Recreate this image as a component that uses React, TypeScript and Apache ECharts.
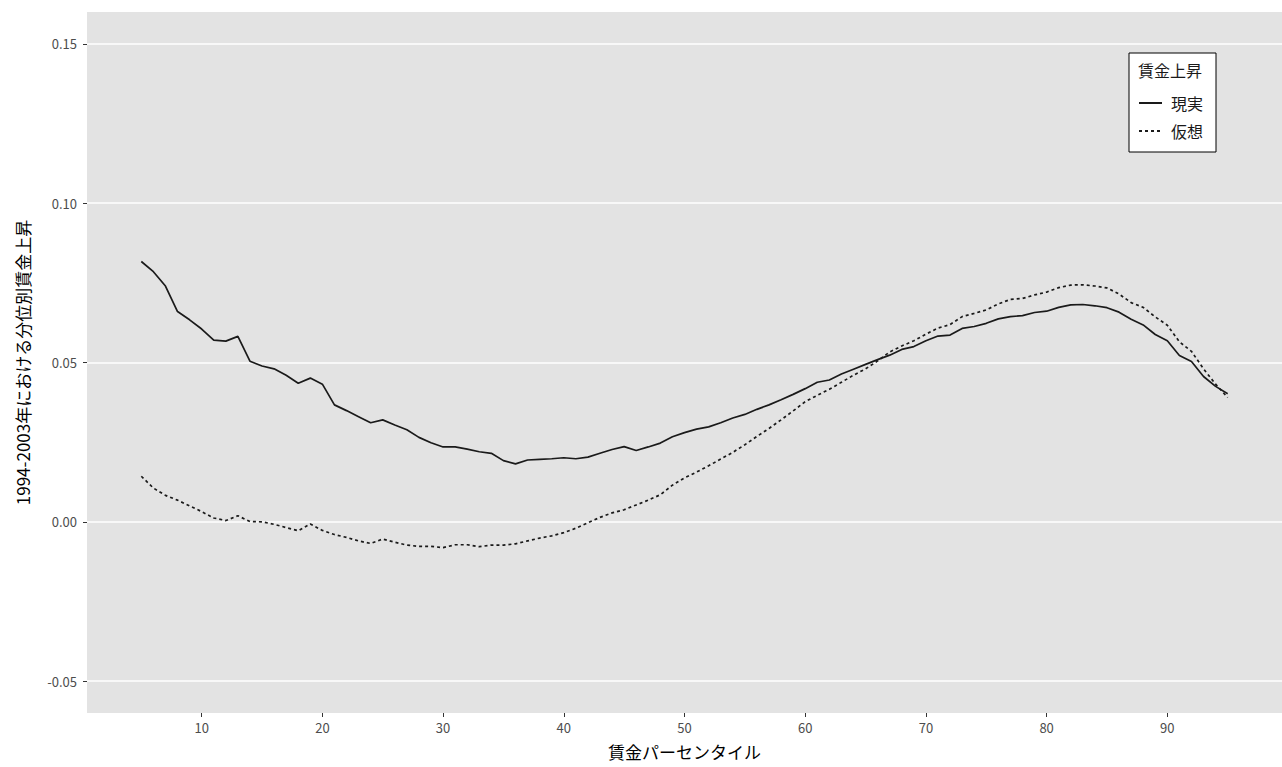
import React, { useEffect, useRef } from "react";
import * as echarts from "echarts";

const percentiles: number[] = Array.from({ length: 91 }, (_, i) => i + 5);

const actual: number[] = [
  0.0817, 0.0785, 0.074, 0.066, 0.0634, 0.0605, 0.057, 0.0567, 0.0582, 0.0504,
  0.0489, 0.048, 0.046, 0.0435, 0.0451, 0.0432, 0.0367, 0.0349, 0.033, 0.0311,
  0.032, 0.0304, 0.0289, 0.0265, 0.0248, 0.0235, 0.0235, 0.0228, 0.022, 0.0215,
  0.0192, 0.0182, 0.0194, 0.0196, 0.0198, 0.0201, 0.0198, 0.0203, 0.0215, 0.0227,
  0.0236, 0.0224, 0.0235, 0.0247, 0.0267, 0.028, 0.0291, 0.0298, 0.0311, 0.0326,
  0.0337, 0.0353, 0.0367, 0.0383, 0.04, 0.0418, 0.0438, 0.0445, 0.0464, 0.0479,
  0.0494, 0.0509, 0.0523, 0.0541, 0.055, 0.0568, 0.0583, 0.0586, 0.0607, 0.0613,
  0.0623, 0.0637, 0.0644, 0.0647, 0.0657, 0.0661, 0.0673, 0.0681, 0.0682, 0.0678,
  0.0672, 0.0658, 0.0636, 0.0618, 0.0588, 0.0568, 0.0522, 0.0503, 0.0456, 0.0425,
  0.0402,
];

const counterfactual: number[] = [
  0.0143, 0.0106, 0.0083, 0.0068, 0.005, 0.0032, 0.0012, 0.0004, 0.0019, 0.0001,
  0.0, -0.0008, -0.0018, -0.0028, -0.0007, -0.0027, -0.004, -0.0049, -0.006, -0.0068,
  -0.0054, -0.0064, -0.0073, -0.0077, -0.0077, -0.0081, -0.0072, -0.0072, -0.0078, -0.0073,
  -0.0073, -0.0069, -0.006, -0.0051, -0.0044, -0.0034, -0.002, -0.0003, 0.0014, 0.0028,
  0.0038, 0.0053, 0.0068, 0.0085, 0.0115, 0.0138, 0.0156, 0.0176, 0.0197, 0.0218,
  0.0242, 0.0268, 0.0293, 0.032, 0.0348, 0.0377, 0.0397, 0.0416, 0.0438, 0.046,
  0.048, 0.0505, 0.0533, 0.0552, 0.0568, 0.0589, 0.0608, 0.0619, 0.0644, 0.0654,
  0.0665, 0.0684, 0.0698, 0.0701, 0.0712, 0.0721, 0.0735, 0.0743, 0.0744, 0.074,
  0.0734, 0.0715, 0.0688, 0.0673, 0.0643, 0.0617, 0.0565, 0.0535, 0.048, 0.0432,
  0.039,
];

const xTicks: number[] = [10, 20, 30, 40, 50, 60, 70, 80, 90];
const yTicks: number[] = [-0.05, 0, 0.05, 0.1, 0.15];
const seriesNames: string[] = ["現実", "仮想"];
const legendTitle = "賃金上昇";
const xTitle = "賃金パーセンタイル";
const yTitle = "1994-2003年における分位別賃金上昇";

const FONT = "'Noto Sans CJK JP', 'Noto Sans', sans-serif";

export default function App() {
  const ref = useRef<HTMLDivElement>(null);
  useEffect(() => {
    document.body.style.margin = "0";
    const chart = echarts.init(ref.current as HTMLDivElement, null, { renderer: "svg" });
    const toPairs = (vals: number[]) => percentiles.map((p, i) => [p, vals[i]]);
    chart.setOption({
      animation: false,
      textStyle: { fontFamily: FONT },
      grid: {
        left: 87,
        right: -13,
        top: 12,
        bottom: 54,
        show: true,
        backgroundColor: "#e3e3e3",
        borderWidth: 0,
      },
      xAxis: {
        type: "value",
        min: 0.5,
        max: 99.5,
        name: xTitle,
        nameLocation: "middle",
        nameGap: 30,
        nameTextStyle: { fontSize: 17, color: "#000", fontFamily: FONT },
        axisLine: { show: false, onZero: false },
        axisTick: { show: true, length: 4, lineStyle: { color: "#333" }, customValues: xTicks },
        axisLabel: {
          customValues: xTicks,
          color: "#4d4d4d",
          fontSize: 13,
          margin: 8,
          fontFamily: FONT,
        },
        splitLine: { show: false },
      },
      yAxis: {
        type: "value",
        min: -0.06,
        max: 0.16,
        name: yTitle,
        nameLocation: "middle",
        nameGap: 56,
        nameRotate: 90,
        nameTextStyle: { fontSize: 17, color: "#000", fontFamily: FONT },
        axisLine: { show: false, onZero: false },
        axisTick: { show: true, length: 4, lineStyle: { color: "#333" }, customValues: yTicks },
        axisLabel: {
          customValues: yTicks,
          color: "#4d4d4d",
          fontSize: 13,
          margin: 10,
          fontFamily: FONT,
          formatter: (v: number) => v.toFixed(2),
        },
        splitLine: { show: true, lineStyle: { color: "#ffffff", width: 1.5 } },
      },
      legend: {
        show: true,
        orient: "vertical",
        left: 1129,
        top: 53,
        padding: [42, 13, 13, 9],
        itemGap: 12,
        itemWidth: 23,
        itemHeight: 14,
        backgroundColor: "#ffffff",
        borderColor: "#000000",
        borderWidth: 1,
        itemStyle: { opacity: 0, borderWidth: 0 },
        textStyle: { fontSize: 16, color: "#1a1a1a", fontFamily: FONT, padding: [0, 0, 0, 4] },
        data: seriesNames,
      },
      graphic: [
        {
          type: "text",
          left: 1138,
          top: 62,
          z: 100,
          style: { text: legendTitle, fontSize: 16, fill: "#1a1a1a", fontFamily: FONT },
        },
      ],
      series: [
        {
          name: seriesNames[0],
          type: "line",
          data: toPairs(actual),
          showSymbol: false,
          symbol: "none",
          lineStyle: { color: "#1a1a1a", width: 1.7, type: "solid" },
          itemStyle: { color: "#1a1a1a" },
          z: 3,
        },
        {
          name: seriesNames[1],
          type: "line",
          data: toPairs(counterfactual),
          showSymbol: false,
          symbol: "none",
          lineStyle: { color: "#1a1a1a", width: 1.7, type: [3, 3] },
          itemStyle: { color: "#1a1a1a" },
          z: 3,
        },
      ],
    });
    return () => chart.dispose();
  }, []);
  return <div ref={ref} style={{ width: 1282, height: 767 }} />;
}
